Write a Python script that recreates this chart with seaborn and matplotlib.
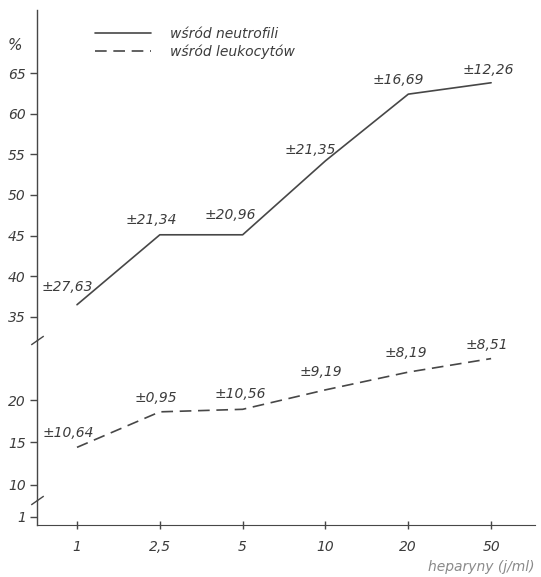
import numpy as np
import pandas as pd
import matplotlib.pyplot as plt
import seaborn as sns

# dane
dawki = ['1', '2,5', '5', '10', '20', '50']
neutrofile = [36.5, 45.1, 45.1, 54.2, 62.4, 63.8]
leukocyty = [14.4, 18.6, 18.9, 21.2, 23.3, 24.9]
sd_neutrofile = ['±27,63', '±21,34', '±20,96', '±21,35', '±16,69', '±12,26']
sd_leukocyty = ['±10,64', '±0,95', '±10,56', '±9,19', '±8,19', '±8,51']

# przesuniecia opisow (w punktach)
off_neutro = [(-7, 13), (-6, 11), (-9, 14), (-11, 8), (-7, 10), (-2, 9)]
off_leuko = [(-6, 10), (-3, 10), (-2, 11), (-3, 13), (-2, 14), (-3, 10)]

sns.set_style('white')
plt.rcParams['font.family'] = ['DejaVu Sans']
plt.rcParams['font.style'] = 'italic'

kolor = '#474747'
kolor_txt = '#3c3c3c'

df = pd.DataFrame({'poz': np.arange(len(dawki)), 'neutrofile': neutrofile, 'leukocyty': leukocyty})

fig = plt.figure(figsize=(5.41, 5.77), dpi=100)
W, H = 541, 577
lewo, prawo = 37 / W, 535 / W

def osie(y_gora, y_dol, share=None):
    return fig.add_axes([lewo, 1 - y_dol / H, prawo - lewo, (y_dol - y_gora) / H], sharex=share)

ax_top = osie(10, 340)
ax_mid = osie(340, 500, ax_top)
ax_bot = osie(500, 525, ax_top)

sns.lineplot(data=df, x='poz', y='neutrofile', ax=ax_top, color=kolor, lw=1.2)
sns.lineplot(data=df, x='poz', y='leukocyty', ax=ax_mid, color=kolor, lw=1.2, linestyle=(0, (7, 4)))

for i in range(len(dawki)):
    ax_top.annotate(sd_neutrofile[i], (df['poz'][i], neutrofile[i]), xytext=off_neutro[i],
                    textcoords='offset points', ha='center', va='center', fontsize=10, color=kolor_txt)
    ax_mid.annotate(sd_leukocyty[i], (df['poz'][i], leukocyty[i]), xytext=off_leuko[i],
                    textcoords='offset points', ha='center', va='center', fontsize=10, color=kolor_txt)

ax_top.set_xlim(-0.483, 5.53)
ax_top.set_ylim(32.16, 72.75)
ax_mid.set_ylim(8.17, 27.1)
ax_bot.set_ylim(0.05, 3.0)

ax_top.set_yticks([35, 40, 45, 50, 55, 60, 65])
ax_mid.set_yticks([10, 15, 20])
ax_bot.set_yticks([1])
ax_bot.set_xticks(df['poz'], dawki)

for ax in (ax_top, ax_mid, ax_bot):
    ax.set_xlabel('')
    ax.set_ylabel('')
    for s in ('top', 'right', 'bottom'):
        ax.spines[s].set_visible(False)
    ax.spines['left'].set_color(kolor)
    ax.spines['left'].set_linewidth(1.0)
    ax.tick_params(axis='y', left=True, direction='out', length=5, width=1, color=kolor,
                   labelsize=10, labelcolor=kolor_txt, pad=3)
    ax.tick_params(axis='x', bottom=False, labelbottom=False)
    ax.patch.set_alpha(0)

ax_bot.spines['bottom'].set_visible(True)
ax_bot.spines['bottom'].set_color(kolor)
ax_bot.tick_params(axis='x', bottom=True, labelbottom=True, direction='inout', length=6,
                   width=1, color=kolor, labelsize=10, labelcolor=kolor_txt, pad=8)
ax_bot.set_xlabel('heparyny (j/ml)', loc='right', fontsize=10, color='#8a8a8a', labelpad=4)

# znaczki przerwania osi
for ax in (ax_top, ax_mid):
    ax.plot([0], [0], transform=ax.transAxes, marker=[(-1, -0.7), (1, 0.7)], markersize=9,
            color=kolor, mew=1, clip_on=False)

fig.text(15 / W, 1 - 45 / H, '%', fontsize=11, color=kolor_txt, ha='center', va='center')

fig.legend(handles=ax_top.lines[:1] + ax_mid.lines[:1], labels=['wśród neutrofili', 'wśród leukocytów'],
           loc='upper left', bbox_to_anchor=(88 / W, 1 - 20 / H), frameon=False, fontsize=10,
           handlelength=4.0, handletextpad=1.4, labelspacing=0.25, borderpad=0, labelcolor=kolor_txt)

fig.savefig('out.png', dpi=100, facecolor='white')
